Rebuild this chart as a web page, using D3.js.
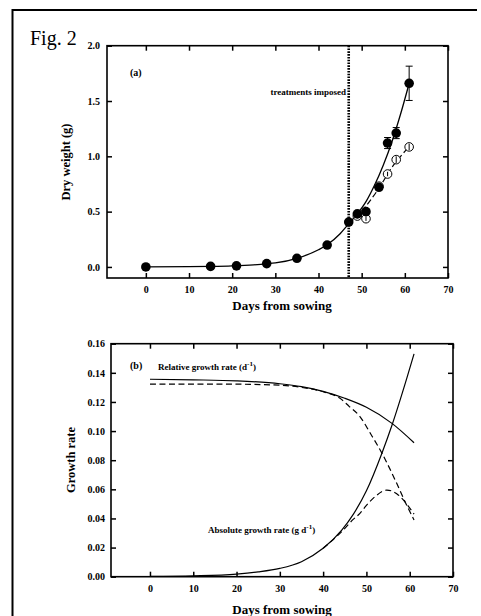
<!DOCTYPE html>
<html>
<head>
<meta charset="utf-8">
<script src="https://cdn.jsdelivr.net/npm/d3@7"></script>
<style>
    body { margin: 0; background: white; }
    svg text { font-family: "Liberation Serif", "Times New Roman", serif; }
</style>
</head>
<body>
<div id="fig"></div>
<script>
// panel (a): measured dry weights
let ctrlDays = [0, 15, 21, 28, 35, 42, 47, 49, 51, 54, 56, 58, 61];
let ctrlWeight = [0.0, 0.005, 0.01, 0.03, 0.078, 0.198, 0.406, 0.48, 0.50, 0.72, 1.12, 1.21, 1.66];
let ctrlErr = [0, 0, 0, 0, 0, 0, 0, 0, 0.02, 0.02, 0.05, 0.05, 0.155];

let treatDays = [49, 51, 54, 56, 58, 61];
let treatWeight = [0.46, 0.436, 0.73, 0.84, 0.97, 1.085];
let treatErr = [0.02, 0.02, 0.02, 0.02, 0.03, 0.03];

// panel (a): fitted curves
let fitDays = [0, 10, 15, 20, 25, 28, 30, 35, 40, 42, 45, 47, 49, 51, 53, 55, 57, 59, 61];
let fitWeight = [0.0, 0.002, 0.005, 0.01, 0.019, 0.028, 0.036, 0.078, 0.155, 0.2, 0.3, 0.39, 0.48, 0.59, 0.74, 0.92, 1.13, 1.38, 1.66];
let fitTreatDays = [47, 49, 51, 53, 55, 57, 59, 61];
let fitTreatWeight = [0.39, 0.465, 0.55, 0.655, 0.775, 0.9, 1.0, 1.085];

// panel (b): growth rates
let rgrDays = [0, 10, 20, 30, 35, 40, 45, 50, 55.9, 61];
let rgrCtrl = [0.1356, 0.1352, 0.1345, 0.1325, 0.1305, 0.1273, 0.1225, 0.1163, 0.1053, 0.092];
let rgrTreatDays = [0, 10, 20, 30, 35, 40, 43.9, 46, 48.5, 51, 53.6, 57, 59, 61];
let rgrTreat = [0.1323, 0.1323, 0.1322, 0.1315, 0.13, 0.127, 0.1225, 0.117, 0.11, 0.098, 0.0847, 0.0641, 0.051, 0.039];

let agrDays = [0, 10, 20, 25, 30, 35, 40, 44.3, 47, 50, 53.6, 55.9, 59.3, 61];
let agrCtrl = [0.0002, 0.0006, 0.0018, 0.0033, 0.0057, 0.0103, 0.0195, 0.032, 0.043, 0.059, 0.085, 0.104, 0.136, 0.153];
let agrTreatDays = [40, 44.3, 47, 48.5, 50, 52, 54.7, 57, 59, 61];
let agrTreat = [0.0195, 0.031, 0.0395, 0.0435, 0.049, 0.055, 0.0595, 0.057, 0.051, 0.043];

let xTicks = [0, 10, 20, 30, 40, 50, 60, 70];
let yTicksA = [0, 0.5, 1.0, 1.5, 2.0];
let yTicksB = [0, 0.02, 0.04, 0.06, 0.08, 0.10, 0.12, 0.14, 0.16];
let treatmentDay = 47;

let totalWidth = 481;
let totalHeight = 616;

let svg = d3.select("#fig")
    .append("svg")
    .attr("width", totalWidth)
    .attr("height", totalHeight);

// outer frame (top and left only)
svg.append("path")
    .attr("d", "M12.5,616 L12.5,10 L477,10")
    .attr("fill", "none")
    .attr("stroke", "black")
    .attr("stroke-width", 2);

svg.append("text")
    .attr("x", 30)
    .attr("y", 45)
    .style("font-size", "20px")
    .text("Fig. 2");

function zip(xs, ys) {
    return xs.map((d, i) => [d, ys[i]]);
}

//draws a boxed panel with inward ticks on all four sides
function drawFrame(box, xScale, yScale, yTicks, yFormat, yPad) {
    let g = svg.append("g");
    let fontSize = "10px";

    let bottom = g.append("g")
        .attr("transform", `translate(0, ${box.bottom})`)
        .call(d3.axisBottom(xScale).tickValues(xTicks).tickSize(-5).tickPadding(8).tickFormat(d3.format("d")));
    let top = g.append("g")
        .attr("transform", `translate(0, ${box.top})`)
        .call(d3.axisTop(xScale).tickValues(xTicks).tickSize(-5).tickFormat(""));
    let left = g.append("g")
        .attr("transform", `translate(${box.left}, 0)`)
        .call(d3.axisLeft(yScale).tickValues(yTicks).tickSize(-5).tickPadding(yPad).tickFormat(d3.format(yFormat)));
    let right = g.append("g")
        .attr("transform", `translate(${box.right}, 0)`)
        .call(d3.axisRight(yScale).tickValues(yTicks).tickSize(-5).tickFormat(""));

    [bottom, top, left, right].forEach(function(a) {
        a.select(".domain").remove();
        a.selectAll("line").attr("stroke-width", 1.5);
        a.selectAll("text")
            .style("font-size", fontSize)
            .style("font-weight", "bold")
            .style("font-family", "'Liberation Serif', serif");
    });

    g.append("rect")
        .attr("x", box.left)
        .attr("y", box.top)
        .attr("width", box.right - box.left)
        .attr("height", box.bottom - box.top)
        .attr("fill", "none")
        .attr("stroke", "black")
        .attr("stroke-width", 1.6);
}

function boldText(x, y, size, str) {
    return svg.append("text")
        .attr("x", x)
        .attr("y", y)
        .style("font-size", size)
        .style("font-weight", "bold")
        .text(str);
}

// ---------------- panel (a) ----------------
let boxA = { left: 107, right: 448, top: 45.7, bottom: 278 };
let xA = d3.scaleLinear().domain([-9, 70]).range([boxA.left, boxA.right]);
let yA = d3.scaleLinear().domain([-0.1, 2.0]).range([boxA.bottom, boxA.top]);

drawFrame(boxA, xA, yA, yTicksA, ".1f", 7);

// treatments imposed line
svg.append("line")
    .attr("x1", xA(treatmentDay))
    .attr("x2", xA(treatmentDay))
    .attr("y1", boxA.top)
    .attr("y2", boxA.bottom)
    .attr("stroke", "black")
    .attr("stroke-width", 2.6)
    .attr("stroke-dasharray", "1.6 1.2");

let lineA = d3.line()
    .x(d => xA(d[0]))
    .y(d => yA(d[1]))
    .curve(d3.curveMonotoneX);

svg.append("path")
    .attr("d", lineA(zip(fitTreatDays, fitTreatWeight)))
    .attr("fill", "none")
    .attr("stroke", "black")
    .attr("stroke-width", 1.2)
    .attr("stroke-dasharray", "6 3");

svg.append("path")
    .attr("d", lineA(zip(fitDays, fitWeight)))
    .attr("fill", "none")
    .attr("stroke", "black")
    .attr("stroke-width", 1.3);

// error bars
function errorBars(days, vals, errs, cap) {
    let g = svg.append("g");
    days.forEach(function(d, i) {
        if (!errs[i]) return;
        let x = xA(d);
        let y1 = yA(vals[i] - errs[i]);
        let y2 = yA(vals[i] + errs[i]);
        g.append("line").attr("x1", x).attr("x2", x).attr("y1", y1).attr("y2", y2)
            .attr("stroke", "black").attr("stroke-width", 1);
        if (cap) {
            [y1, y2].forEach(function(y) {
                g.append("line").attr("x1", x - 3.5).attr("x2", x + 3.5).attr("y1", y).attr("y2", y)
                    .attr("stroke", "black").attr("stroke-width", 1);
            });
        }
    });
}

// open circles (treatment) go underneath the filled ones
svg.append("g")
    .selectAll("circle")
    .data(zip(treatDays, treatWeight))
    .enter()
    .append("circle")
    .attr("cx", d => xA(d[0]))
    .attr("cy", d => yA(d[1]))
    .attr("r", 4.3)
    .attr("fill", "white")
    .attr("stroke", "black")
    .attr("stroke-width", 1);
errorBars(treatDays, treatWeight, treatErr, false);

errorBars(ctrlDays, ctrlWeight, ctrlErr, true);
svg.append("g")
    .selectAll("circle")
    .data(zip(ctrlDays, ctrlWeight))
    .enter()
    .append("circle")
    .attr("cx", d => xA(d[0]))
    .attr("cy", d => yA(d[1]))
    .attr("r", 4.8)
    .attr("fill", "black");

boldText(130, 76, "10px", "(a)");
boldText(346, 95, "9px", "treatments imposed").attr("text-anchor", "end");
boldText(282, 310, "13px", "Days from sowing").attr("text-anchor", "middle");
boldText(0, 0, "12.5px", "Dry weight (g)")
    .attr("text-anchor", "middle")
    .attr("transform", "translate(70, 162) rotate(-90)");

// ---------------- panel (b) ----------------
let boxB = { left: 111, right: 453, top: 343.7, bottom: 576.7 };
let xB = d3.scaleLinear().domain([-9, 70]).range([boxB.left, boxB.right]);
let yB = d3.scaleLinear().domain([0, 0.16]).range([boxB.bottom, boxB.top]);

drawFrame(boxB, xB, yB, yTicksB, ".2f", 6);

let lineB = d3.line()
    .x(d => xB(d[0]))
    .y(d => yB(d[1]))
    .curve(d3.curveMonotoneX);

let curvesB = [
    { pts: zip(rgrDays, rgrCtrl), dash: null },
    { pts: zip(rgrTreatDays, rgrTreat), dash: "6 3.5" },
    { pts: zip(agrDays, agrCtrl), dash: null },
    { pts: zip(agrTreatDays, agrTreat), dash: "6 3.5" }
];

svg.append("g")
    .selectAll("path")
    .data(curvesB)
    .enter()
    .append("path")
    .attr("d", d => lineB(d.pts))
    .attr("fill", "none")
    .attr("stroke", "black")
    .attr("stroke-width", 1.2)
    .attr("stroke-dasharray", d => d.dash);

boldText(130, 369, "10px", "(b)");

let rgrLabel = boldText(158, 370, "9px", "Relative growth rate (d");
rgrLabel.append("tspan").attr("dy", -4).style("font-size", "7px").text("-1");
rgrLabel.append("tspan").attr("dy", 4).text(")");

let agrLabel = boldText(208, 533, "9px", "Absolute growth rate (g d");
agrLabel.append("tspan").attr("dy", -4).style("font-size", "7px").text("-1");
agrLabel.append("tspan").attr("dy", 4).text(")");

boldText(282, 614, "13px", "Days from sowing").attr("text-anchor", "middle");
boldText(0, 0, "12.5px", "Growth rate")
    .attr("text-anchor", "middle")
    .attr("transform", "translate(74.5, 460) rotate(-90)");
</script>
</body>
</html>
